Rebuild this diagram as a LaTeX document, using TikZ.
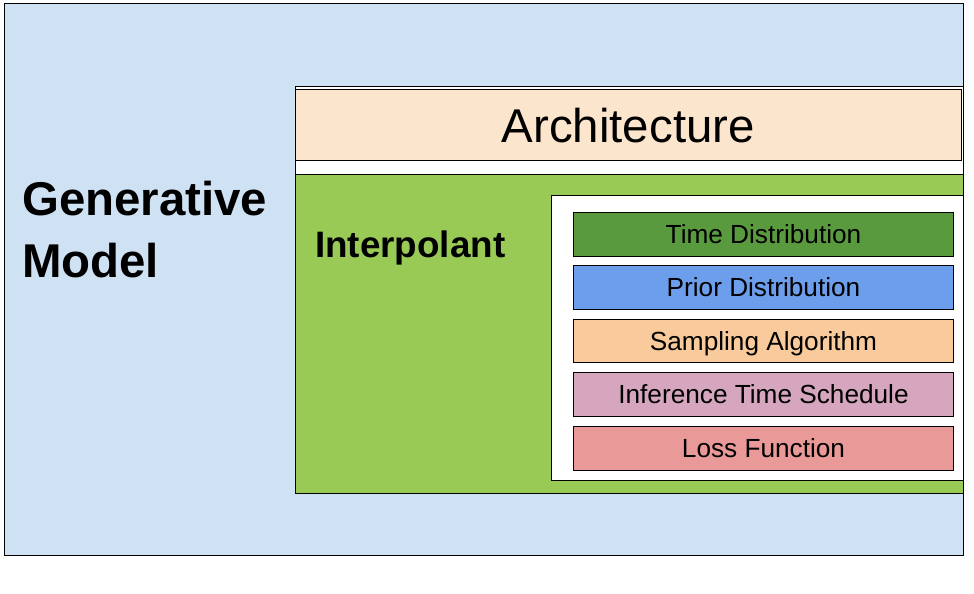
\documentclass[tikz,border=0pt]{standalone}
\usepackage{fontspec}
\setmainfont{Liberation Sans}
\definecolor{outerblue}{HTML}{CFE2F3}
\definecolor{peach}{HTML}{FCE5CD}
\definecolor{interpgreen}{HTML}{99CA55}
\definecolor{timegreen}{HTML}{5A9A3E}
\definecolor{priorblue}{HTML}{6D9EEB}
\definecolor{samporange}{HTML}{F9CB9C}
\definecolor{infpink}{HTML}{D5A6BD}
\definecolor{lossred}{HTML}{EA9999}
\begin{document}
\begin{tikzpicture}[x=1pt,y=-1pt,
  box/.style={draw=black, line width=1pt, anchor=north west, inner sep=0pt, outer sep=0pt},
  item/.style={box, minimum width=380pt, minimum height=43.5pt,
    font=\fontsize{26.2}{31}\selectfont, text height=18.8pt, text depth=0pt},
  bigbold/.style={font=\bfseries\fontsize{47.4}{57}\selectfont, inner sep=0pt, anchor=base west}
]
\useasboundingbox (0,0) rectangle (974,594);
% outer generative model box
\node[box, fill=outerblue, minimum width=959pt, minimum height=551pt] (gen) at (4,4) {};
\node[bigbold] (genA) at (22,215) {Generative};
\node[bigbold] (genB) at (22,277) {Model};
% architecture
\node[box, fill=white, minimum width=668pt, minimum height=89pt] (archbg) at (295.5,86.5) {};
\node[box, fill=peach, minimum width=665.5pt, minimum height=71pt,
  font=\fontsize{47.4}{57}\selectfont, text height=34pt, text depth=0pt] (arch) at (295.5,89.5) {Architecture};
% interpolant
\node[box, fill=interpgreen, minimum width=668pt, minimum height=319pt] (interp) at (295.5,174.5) {};
\node[font=\bfseries\fontsize{36.8}{44}\selectfont, inner sep=0pt, anchor=base west] (interplbl) at (315,257) {Interpolant};
% inner white box
\node[box, fill=white, minimum width=412pt, minimum height=285pt] (inner) at (551.5,195.5) {};
% items
\node[item, fill=timegreen] (time) at (573.5,212.5) {Time Distribution};
\node[item, fill=priorblue] (prior) at (573.5,265.8) {Prior Distribution};
\node[item, fill=samporange] (samp) at (573.5,319.3) {Sampling Algorithm};
\node[item, fill=infpink] (inf) at (573.5,372.6) {Inference Time Schedule};
\node[item, fill=lossred] (loss) at (573.5,426.5) {Loss Function};
\end{tikzpicture}
\end{document}
